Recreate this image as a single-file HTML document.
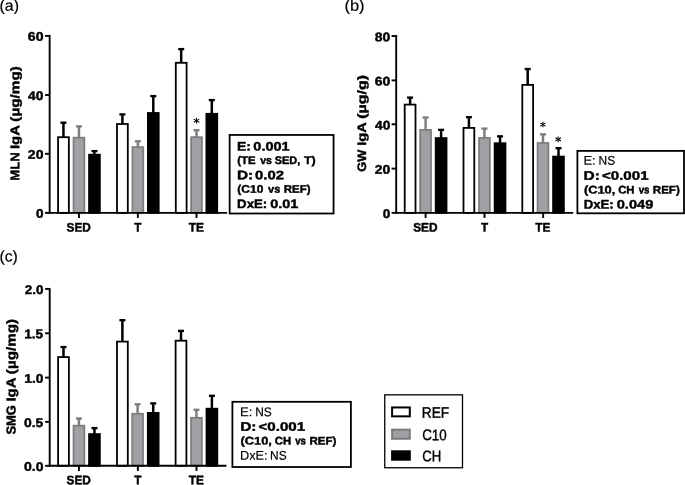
<!DOCTYPE html>
<html><head><meta charset="utf-8"><title>Figure</title>
<style>html,body{margin:0;padding:0;background:#fff;}svg{display:block;will-change:transform}text{font-family:"Liberation Sans",sans-serif;}</style>
</head><body>
<svg width="685" height="485" viewBox="0 0 685 485">
<rect width="685" height="485" fill="#fff"/>
<line x1="63.45" y1="122.70" x2="63.45" y2="137.30" stroke="#000" stroke-width="2.5" stroke-linecap="butt"/>
<line x1="60.45" y1="122.70" x2="66.45" y2="122.70" stroke="#000" stroke-width="2.35" stroke-linecap="butt"/>
<rect x="58.05" y="137.20" width="10.80" height="75.65" fill="#fff" stroke="#000" stroke-width="1.8"/>
<line x1="78.95" y1="126.40" x2="78.95" y2="137.80" stroke="#7e7e7e" stroke-width="2.5" stroke-linecap="butt"/>
<line x1="75.95" y1="126.40" x2="81.95" y2="126.40" stroke="#7e7e7e" stroke-width="2.35" stroke-linecap="butt"/>
<rect x="73.55" y="137.70" width="10.80" height="75.15" fill="#a0a0a4" stroke="#7e7e7e" stroke-width="1.8"/>
<line x1="94.45" y1="151.10" x2="94.45" y2="154.80" stroke="#000" stroke-width="2.5" stroke-linecap="butt"/>
<line x1="91.45" y1="151.10" x2="97.45" y2="151.10" stroke="#000" stroke-width="2.35" stroke-linecap="butt"/>
<rect x="89.05" y="154.70" width="10.80" height="58.15" fill="#000" stroke="#000" stroke-width="1.8"/>
<line x1="122.40" y1="114.40" x2="122.40" y2="124.10" stroke="#000" stroke-width="2.5" stroke-linecap="butt"/>
<line x1="119.40" y1="114.40" x2="125.40" y2="114.40" stroke="#000" stroke-width="2.35" stroke-linecap="butt"/>
<rect x="117.00" y="124.00" width="10.80" height="88.85" fill="#fff" stroke="#000" stroke-width="1.8"/>
<line x1="137.85" y1="141.30" x2="137.85" y2="147.20" stroke="#7e7e7e" stroke-width="2.5" stroke-linecap="butt"/>
<line x1="134.85" y1="141.30" x2="140.85" y2="141.30" stroke="#7e7e7e" stroke-width="2.35" stroke-linecap="butt"/>
<rect x="132.45" y="147.10" width="10.80" height="65.75" fill="#a0a0a4" stroke="#7e7e7e" stroke-width="1.8"/>
<line x1="153.30" y1="96.10" x2="153.30" y2="113.10" stroke="#000" stroke-width="2.5" stroke-linecap="butt"/>
<line x1="150.30" y1="96.10" x2="156.30" y2="96.10" stroke="#000" stroke-width="2.35" stroke-linecap="butt"/>
<rect x="147.90" y="113.00" width="10.80" height="99.85" fill="#000" stroke="#000" stroke-width="1.8"/>
<line x1="181.20" y1="49.10" x2="181.20" y2="62.90" stroke="#000" stroke-width="2.5" stroke-linecap="butt"/>
<line x1="178.20" y1="49.10" x2="184.20" y2="49.10" stroke="#000" stroke-width="2.35" stroke-linecap="butt"/>
<rect x="175.80" y="62.80" width="10.80" height="150.05" fill="#fff" stroke="#000" stroke-width="1.8"/>
<line x1="196.50" y1="130.20" x2="196.50" y2="137.30" stroke="#7e7e7e" stroke-width="2.5" stroke-linecap="butt"/>
<line x1="193.50" y1="130.20" x2="199.50" y2="130.20" stroke="#7e7e7e" stroke-width="2.35" stroke-linecap="butt"/>
<rect x="191.10" y="137.20" width="10.80" height="75.65" fill="#a0a0a4" stroke="#7e7e7e" stroke-width="1.8"/>
<line x1="211.80" y1="100.10" x2="211.80" y2="113.90" stroke="#000" stroke-width="2.5" stroke-linecap="butt"/>
<line x1="208.80" y1="100.10" x2="214.80" y2="100.10" stroke="#000" stroke-width="2.35" stroke-linecap="butt"/>
<rect x="206.40" y="113.80" width="10.80" height="99.05" fill="#000" stroke="#000" stroke-width="1.8"/>
<line x1="49.65" y1="34.95" x2="49.65" y2="213.80" stroke="#000" stroke-width="1.9" stroke-linecap="butt"/>
<line x1="48.70" y1="212.85" x2="227.00" y2="212.85" stroke="#000" stroke-width="1.9" stroke-linecap="butt"/>
<line x1="45.05" y1="35.90" x2="49.65" y2="35.90" stroke="#000" stroke-width="1.9" stroke-linecap="butt"/>
<line x1="45.05" y1="95.00" x2="49.65" y2="95.00" stroke="#000" stroke-width="1.9" stroke-linecap="butt"/>
<line x1="45.05" y1="153.80" x2="49.65" y2="153.80" stroke="#000" stroke-width="1.9" stroke-linecap="butt"/>
<line x1="45.05" y1="212.85" x2="49.65" y2="212.85" stroke="#000" stroke-width="1.9" stroke-linecap="butt"/>
<line x1="78.95" y1="212.85" x2="78.95" y2="217.95" stroke="#000" stroke-width="1.9" stroke-linecap="butt"/>
<line x1="137.85" y1="212.85" x2="137.85" y2="217.95" stroke="#000" stroke-width="1.9" stroke-linecap="butt"/>
<line x1="196.50" y1="212.85" x2="196.50" y2="217.95" stroke="#000" stroke-width="1.9" stroke-linecap="butt"/>
<line x1="410.10" y1="97.60" x2="410.10" y2="104.70" stroke="#000" stroke-width="2.5" stroke-linecap="butt"/>
<line x1="407.10" y1="97.60" x2="413.10" y2="97.60" stroke="#000" stroke-width="2.35" stroke-linecap="butt"/>
<rect x="404.70" y="104.60" width="10.80" height="108.25" fill="#fff" stroke="#000" stroke-width="1.8"/>
<line x1="425.60" y1="117.50" x2="425.60" y2="130.00" stroke="#7e7e7e" stroke-width="2.5" stroke-linecap="butt"/>
<line x1="422.60" y1="117.50" x2="428.60" y2="117.50" stroke="#7e7e7e" stroke-width="2.35" stroke-linecap="butt"/>
<rect x="420.20" y="129.90" width="10.80" height="82.95" fill="#a0a0a4" stroke="#7e7e7e" stroke-width="1.8"/>
<line x1="441.10" y1="129.85" x2="441.10" y2="138.20" stroke="#000" stroke-width="2.5" stroke-linecap="butt"/>
<line x1="438.10" y1="129.85" x2="444.10" y2="129.85" stroke="#000" stroke-width="2.35" stroke-linecap="butt"/>
<rect x="435.70" y="138.10" width="10.80" height="74.75" fill="#000" stroke="#000" stroke-width="1.8"/>
<line x1="468.90" y1="117.20" x2="468.90" y2="128.00" stroke="#000" stroke-width="2.5" stroke-linecap="butt"/>
<line x1="465.90" y1="117.20" x2="471.90" y2="117.20" stroke="#000" stroke-width="2.35" stroke-linecap="butt"/>
<rect x="463.50" y="127.90" width="10.80" height="84.95" fill="#fff" stroke="#000" stroke-width="1.8"/>
<line x1="484.45" y1="128.60" x2="484.45" y2="138.00" stroke="#7e7e7e" stroke-width="2.5" stroke-linecap="butt"/>
<line x1="481.45" y1="128.60" x2="487.45" y2="128.60" stroke="#7e7e7e" stroke-width="2.35" stroke-linecap="butt"/>
<rect x="479.05" y="137.90" width="10.80" height="74.95" fill="#a0a0a4" stroke="#7e7e7e" stroke-width="1.8"/>
<line x1="500.05" y1="136.35" x2="500.05" y2="143.30" stroke="#000" stroke-width="2.5" stroke-linecap="butt"/>
<line x1="497.05" y1="136.35" x2="503.05" y2="136.35" stroke="#000" stroke-width="2.35" stroke-linecap="butt"/>
<rect x="494.65" y="143.20" width="10.80" height="69.65" fill="#000" stroke="#000" stroke-width="1.8"/>
<line x1="527.70" y1="69.05" x2="527.70" y2="85.00" stroke="#000" stroke-width="2.5" stroke-linecap="butt"/>
<line x1="524.70" y1="69.05" x2="530.70" y2="69.05" stroke="#000" stroke-width="2.35" stroke-linecap="butt"/>
<rect x="522.30" y="84.90" width="10.80" height="127.95" fill="#fff" stroke="#000" stroke-width="1.8"/>
<line x1="543.00" y1="134.35" x2="543.00" y2="143.10" stroke="#7e7e7e" stroke-width="2.5" stroke-linecap="butt"/>
<line x1="540.00" y1="134.35" x2="546.00" y2="134.35" stroke="#7e7e7e" stroke-width="2.35" stroke-linecap="butt"/>
<rect x="537.60" y="143.00" width="10.80" height="69.85" fill="#a0a0a4" stroke="#7e7e7e" stroke-width="1.8"/>
<line x1="558.50" y1="148.20" x2="558.50" y2="156.70" stroke="#000" stroke-width="2.5" stroke-linecap="butt"/>
<line x1="555.50" y1="148.20" x2="561.50" y2="148.20" stroke="#000" stroke-width="2.35" stroke-linecap="butt"/>
<rect x="553.10" y="156.60" width="10.80" height="56.25" fill="#000" stroke="#000" stroke-width="1.8"/>
<line x1="396.20" y1="35.10" x2="396.20" y2="213.80" stroke="#000" stroke-width="1.9" stroke-linecap="butt"/>
<line x1="395.25" y1="212.85" x2="573.20" y2="212.85" stroke="#000" stroke-width="1.9" stroke-linecap="butt"/>
<line x1="391.60" y1="36.05" x2="396.20" y2="36.05" stroke="#000" stroke-width="1.9" stroke-linecap="butt"/>
<line x1="391.60" y1="80.40" x2="396.20" y2="80.40" stroke="#000" stroke-width="1.9" stroke-linecap="butt"/>
<line x1="391.60" y1="124.30" x2="396.20" y2="124.30" stroke="#000" stroke-width="1.9" stroke-linecap="butt"/>
<line x1="391.60" y1="168.60" x2="396.20" y2="168.60" stroke="#000" stroke-width="1.9" stroke-linecap="butt"/>
<line x1="391.60" y1="212.85" x2="396.20" y2="212.85" stroke="#000" stroke-width="1.9" stroke-linecap="butt"/>
<line x1="425.60" y1="212.85" x2="425.60" y2="217.95" stroke="#000" stroke-width="1.9" stroke-linecap="butt"/>
<line x1="484.50" y1="212.85" x2="484.50" y2="217.95" stroke="#000" stroke-width="1.9" stroke-linecap="butt"/>
<line x1="543.15" y1="212.85" x2="543.15" y2="217.95" stroke="#000" stroke-width="1.9" stroke-linecap="butt"/>
<line x1="63.50" y1="347.05" x2="63.50" y2="357.20" stroke="#000" stroke-width="2.5" stroke-linecap="butt"/>
<line x1="60.50" y1="347.05" x2="66.50" y2="347.05" stroke="#000" stroke-width="2.35" stroke-linecap="butt"/>
<rect x="58.10" y="357.10" width="10.80" height="108.70" fill="#fff" stroke="#000" stroke-width="1.8"/>
<line x1="78.95" y1="418.50" x2="78.95" y2="425.80" stroke="#7e7e7e" stroke-width="2.5" stroke-linecap="butt"/>
<line x1="75.95" y1="418.50" x2="81.95" y2="418.50" stroke="#7e7e7e" stroke-width="2.35" stroke-linecap="butt"/>
<rect x="73.55" y="425.70" width="10.80" height="40.10" fill="#a0a0a4" stroke="#7e7e7e" stroke-width="1.8"/>
<line x1="94.45" y1="428.10" x2="94.45" y2="434.20" stroke="#000" stroke-width="2.5" stroke-linecap="butt"/>
<line x1="91.45" y1="428.10" x2="97.45" y2="428.10" stroke="#000" stroke-width="2.35" stroke-linecap="butt"/>
<rect x="89.05" y="434.10" width="10.80" height="31.70" fill="#000" stroke="#000" stroke-width="1.8"/>
<line x1="122.40" y1="320.20" x2="122.40" y2="341.70" stroke="#000" stroke-width="2.5" stroke-linecap="butt"/>
<line x1="119.40" y1="320.20" x2="125.40" y2="320.20" stroke="#000" stroke-width="2.35" stroke-linecap="butt"/>
<rect x="117.00" y="341.60" width="10.80" height="124.20" fill="#fff" stroke="#000" stroke-width="1.8"/>
<line x1="137.60" y1="404.30" x2="137.60" y2="413.90" stroke="#7e7e7e" stroke-width="2.5" stroke-linecap="butt"/>
<line x1="134.60" y1="404.30" x2="140.60" y2="404.30" stroke="#7e7e7e" stroke-width="2.35" stroke-linecap="butt"/>
<rect x="132.20" y="413.80" width="10.80" height="52.00" fill="#a0a0a4" stroke="#7e7e7e" stroke-width="1.8"/>
<line x1="153.20" y1="403.40" x2="153.20" y2="413.00" stroke="#000" stroke-width="2.5" stroke-linecap="butt"/>
<line x1="150.20" y1="403.40" x2="156.20" y2="403.40" stroke="#000" stroke-width="2.35" stroke-linecap="butt"/>
<rect x="147.80" y="412.90" width="10.80" height="52.90" fill="#000" stroke="#000" stroke-width="1.8"/>
<line x1="181.00" y1="330.90" x2="181.00" y2="340.80" stroke="#000" stroke-width="2.5" stroke-linecap="butt"/>
<line x1="178.00" y1="330.90" x2="184.00" y2="330.90" stroke="#000" stroke-width="2.35" stroke-linecap="butt"/>
<rect x="175.60" y="340.70" width="10.80" height="125.10" fill="#fff" stroke="#000" stroke-width="1.8"/>
<line x1="196.45" y1="409.80" x2="196.45" y2="417.90" stroke="#7e7e7e" stroke-width="2.5" stroke-linecap="butt"/>
<line x1="193.45" y1="409.80" x2="199.45" y2="409.80" stroke="#7e7e7e" stroke-width="2.35" stroke-linecap="butt"/>
<rect x="191.05" y="417.80" width="10.80" height="48.00" fill="#a0a0a4" stroke="#7e7e7e" stroke-width="1.8"/>
<line x1="211.90" y1="395.80" x2="211.90" y2="408.80" stroke="#000" stroke-width="2.5" stroke-linecap="butt"/>
<line x1="208.90" y1="395.80" x2="214.90" y2="395.80" stroke="#000" stroke-width="2.35" stroke-linecap="butt"/>
<rect x="206.50" y="408.70" width="10.80" height="57.10" fill="#000" stroke="#000" stroke-width="1.8"/>
<line x1="49.70" y1="287.95" x2="49.70" y2="466.75" stroke="#000" stroke-width="1.9" stroke-linecap="butt"/>
<line x1="48.75" y1="465.80" x2="226.50" y2="465.80" stroke="#000" stroke-width="1.9" stroke-linecap="butt"/>
<line x1="45.10" y1="288.90" x2="49.70" y2="288.90" stroke="#000" stroke-width="1.9" stroke-linecap="butt"/>
<line x1="45.10" y1="333.30" x2="49.70" y2="333.30" stroke="#000" stroke-width="1.9" stroke-linecap="butt"/>
<line x1="45.10" y1="377.60" x2="49.70" y2="377.60" stroke="#000" stroke-width="1.9" stroke-linecap="butt"/>
<line x1="45.10" y1="421.85" x2="49.70" y2="421.85" stroke="#000" stroke-width="1.9" stroke-linecap="butt"/>
<line x1="45.10" y1="465.80" x2="49.70" y2="465.80" stroke="#000" stroke-width="1.9" stroke-linecap="butt"/>
<line x1="78.95" y1="465.80" x2="78.95" y2="470.90" stroke="#000" stroke-width="1.9" stroke-linecap="butt"/>
<line x1="137.85" y1="465.80" x2="137.85" y2="470.90" stroke="#000" stroke-width="1.9" stroke-linecap="butt"/>
<line x1="196.50" y1="465.80" x2="196.50" y2="470.90" stroke="#000" stroke-width="1.9" stroke-linecap="butt"/>
<text transform="translate(27.804,40.805) rotate(0.1) scale(0.07044,0.06240)" font-size="200" font-weight="bold" fill="#000" stroke="#000" stroke-width="6.62" stroke-linejoin="round">60</text>
<text transform="translate(28.111,99.906) rotate(0.1) scale(0.06901,0.06240)" font-size="200" font-weight="bold" fill="#000" stroke="#000" stroke-width="6.70" stroke-linejoin="round">40</text>
<text transform="translate(27.832,158.706) rotate(0.1) scale(0.07031,0.06240)" font-size="200" font-weight="bold" fill="#000" stroke="#000" stroke-width="6.63" stroke-linejoin="round">20</text>
<text transform="translate(35.983,217.756) rotate(0.1) scale(0.06792,0.06240)" font-size="200" font-weight="bold" fill="#000" stroke="#000" stroke-width="6.75" stroke-linejoin="round">0</text>
<text transform="translate(374.778,41.206) rotate(0.1) scale(0.06963,0.06240)" font-size="200" font-weight="bold" fill="#000" stroke="#000" stroke-width="6.67" stroke-linejoin="round">80</text>
<text transform="translate(374.707,85.555) rotate(0.1) scale(0.06996,0.06240)" font-size="200" font-weight="bold" fill="#000" stroke="#000" stroke-width="6.65" stroke-linejoin="round">60</text>
<text transform="translate(375.013,129.456) rotate(0.1) scale(0.06853,0.06240)" font-size="200" font-weight="bold" fill="#000" stroke="#000" stroke-width="6.72" stroke-linejoin="round">40</text>
<text transform="translate(374.736,173.756) rotate(0.1) scale(0.06983,0.06240)" font-size="200" font-weight="bold" fill="#000" stroke="#000" stroke-width="6.66" stroke-linejoin="round">20</text>
<text transform="translate(382.683,218.006) rotate(0.1) scale(0.06792,0.06240)" font-size="200" font-weight="bold" fill="#000" stroke="#000" stroke-width="6.75" stroke-linejoin="round">0</text>
<text transform="translate(24.754,293.956) rotate(0.1) scale(0.06713,0.06240)" font-size="200" font-weight="bold" fill="#000" stroke="#000" stroke-width="6.79" stroke-linejoin="round">2.0</text>
<text transform="translate(24.208,338.354) rotate(0.1) scale(0.06848,0.06329)" font-size="200" font-weight="bold" fill="#000" stroke="#000" stroke-width="6.68" stroke-linejoin="round">1.5</text>
<text transform="translate(24.199,382.656) rotate(0.1) scale(0.06918,0.06240)" font-size="200" font-weight="bold" fill="#000" stroke="#000" stroke-width="6.69" stroke-linejoin="round">1.0</text>
<text transform="translate(23.971,426.906) rotate(0.1) scale(0.06935,0.06240)" font-size="200" font-weight="bold" fill="#000" stroke="#000" stroke-width="6.68" stroke-linejoin="round">0.5</text>
<text transform="translate(23.966,470.856) rotate(0.1) scale(0.07005,0.06240)" font-size="200" font-weight="bold" fill="#000" stroke="#000" stroke-width="6.64" stroke-linejoin="round">0.0</text>
<text transform="translate(66.570,231.380) rotate(0.1) scale(0.05908,0.06167)" font-size="200" font-weight="bold" fill="#000" stroke="#000" stroke-width="7.29" stroke-linejoin="round">SED</text>
<text transform="translate(134.289,231.380) rotate(0.1) scale(0.05826,0.06167)" font-size="200" font-weight="bold" fill="#000" stroke="#000" stroke-width="7.34" stroke-linejoin="round">T</text>
<text transform="translate(188.687,231.380) rotate(0.1) scale(0.05934,0.06167)" font-size="200" font-weight="bold" fill="#000" stroke="#000" stroke-width="7.27" stroke-linejoin="round">TE</text>
<text transform="translate(413.220,231.380) rotate(0.1) scale(0.05908,0.06167)" font-size="200" font-weight="bold" fill="#000" stroke="#000" stroke-width="7.29" stroke-linejoin="round">SED</text>
<text transform="translate(480.939,231.380) rotate(0.1) scale(0.05826,0.06167)" font-size="200" font-weight="bold" fill="#000" stroke="#000" stroke-width="7.34" stroke-linejoin="round">T</text>
<text transform="translate(535.337,231.380) rotate(0.1) scale(0.05934,0.06167)" font-size="200" font-weight="bold" fill="#000" stroke="#000" stroke-width="7.27" stroke-linejoin="round">TE</text>
<text transform="translate(66.570,484.330) rotate(0.1) scale(0.05908,0.06167)" font-size="200" font-weight="bold" fill="#000" stroke="#000" stroke-width="7.29" stroke-linejoin="round">SED</text>
<text transform="translate(134.289,484.330) rotate(0.1) scale(0.05826,0.06167)" font-size="200" font-weight="bold" fill="#000" stroke="#000" stroke-width="7.34" stroke-linejoin="round">T</text>
<text transform="translate(188.687,484.330) rotate(0.1) scale(0.05934,0.06167)" font-size="200" font-weight="bold" fill="#000" stroke="#000" stroke-width="7.27" stroke-linejoin="round">TE</text>
<text transform="translate(19.230,180.655) rotate(-89.9) scale(0.06545,0.06275)" font-size="200" font-weight="bold" fill="#000" stroke="#000" stroke-width="6.86" stroke-linejoin="round">MLN</text>
<text transform="translate(19.230,149.023) rotate(-89.9) scale(0.07429,0.06275)" font-size="200" font-weight="bold" fill="#000" stroke="#000" stroke-width="6.42" stroke-linejoin="round">IgA</text>
<text transform="translate(19.230,121.693) rotate(-89.9) scale(0.07650,0.06275)" font-size="200" font-weight="bold" fill="#000" stroke="#000" stroke-width="6.32" stroke-linejoin="round">(µg/mg)</text>
<text transform="translate(366.030,171.756) rotate(-89.9) scale(0.06412,0.06130)" font-size="200" font-weight="bold" fill="#000" stroke="#000" stroke-width="7.02" stroke-linejoin="round">GW</text>
<text transform="translate(366.030,145.706) rotate(-89.9) scale(0.07298,0.06130)" font-size="200" font-weight="bold" fill="#000" stroke="#000" stroke-width="6.55" stroke-linejoin="round">IgA</text>
<text transform="translate(366.030,118.827) rotate(-89.9) scale(0.07994,0.06130)" font-size="200" font-weight="bold" fill="#000" stroke="#000" stroke-width="6.23" stroke-linejoin="round">(µg/g)</text>
<text transform="translate(15.530,434.614) rotate(-89.9) scale(0.06486,0.06457)" font-size="200" font-weight="bold" fill="#000" stroke="#000" stroke-width="6.80" stroke-linejoin="round">SMG</text>
<text transform="translate(15.530,401.528) rotate(-89.9) scale(0.07462,0.06457)" font-size="200" font-weight="bold" fill="#000" stroke="#000" stroke-width="6.32" stroke-linejoin="round">IgA</text>
<text transform="translate(15.530,374.191) rotate(-89.9) scale(0.07629,0.06457)" font-size="200" font-weight="bold" fill="#000" stroke="#000" stroke-width="6.25" stroke-linejoin="round">(µg/mg)</text>
<text transform="translate(-0.488,10.643) rotate(0.1) scale(0.07962,0.07754)" font-size="200" font-weight="normal" fill="#000" stroke="#000" stroke-width="2.55" stroke-linejoin="round">(a)</text>
<text transform="translate(344.478,10.643) rotate(0.1) scale(0.08235,0.07754)" font-size="200" font-weight="normal" fill="#000" stroke="#000" stroke-width="2.50" stroke-linejoin="round">(b)</text>
<text transform="translate(-0.581,261.593) rotate(0.1) scale(0.07903,0.07754)" font-size="200" font-weight="normal" fill="#000" stroke="#000" stroke-width="2.55" stroke-linejoin="round">(c)</text>
<rect x="229.65" y="134.95" width="103.90" height="78.55" fill="#fff" stroke="#000" stroke-width="1.8"/>
<text transform="translate(236.932,150.480) rotate(0.1) scale(0.07012,0.06167)" font-size="200" font-weight="bold" fill="#000" stroke="#000" stroke-width="6.68" stroke-linejoin="round">E:</text>
<text transform="translate(253.346,150.480) rotate(0.1) scale(0.07254,0.06167)" font-size="200" font-weight="bold" fill="#000" stroke="#000" stroke-width="6.56" stroke-linejoin="round">0.001</text>
<text transform="translate(237.300,163.930) rotate(0.1) scale(0.05715,0.05514)" font-size="200" font-weight="bold" fill="#000" stroke="#000" stroke-width="7.84" stroke-linejoin="round">(TE</text>
<text transform="translate(260.171,163.930) rotate(0.1) scale(0.05285,0.05514)" font-size="200" font-weight="bold" fill="#000" stroke="#000" stroke-width="8.15" stroke-linejoin="round">vs</text>
<text transform="translate(274.796,163.930) rotate(0.1) scale(0.05469,0.05514)" font-size="200" font-weight="bold" fill="#000" stroke="#000" stroke-width="8.01" stroke-linejoin="round">SED,</text>
<text transform="translate(303.930,163.930) rotate(0.1) scale(0.06214,0.05514)" font-size="200" font-weight="bold" fill="#000" stroke="#000" stroke-width="7.50" stroke-linejoin="round">T)</text>
<text transform="translate(236.944,179.180) rotate(0.1) scale(0.07675,0.06167)" font-size="200" font-weight="bold" fill="#000" stroke="#000" stroke-width="6.36" stroke-linejoin="round">D:</text>
<text transform="translate(255.082,179.180) rotate(0.1) scale(0.07436,0.06167)" font-size="200" font-weight="bold" fill="#000" stroke="#000" stroke-width="6.47" stroke-linejoin="round">0.02</text>
<text transform="translate(237.374,192.630) rotate(0.1) scale(0.05978,0.05514)" font-size="200" font-weight="bold" fill="#000" stroke="#000" stroke-width="7.66" stroke-linejoin="round">(C10</text>
<text transform="translate(268.119,192.630) rotate(0.1) scale(0.05472,0.05514)" font-size="200" font-weight="bold" fill="#000" stroke="#000" stroke-width="8.01" stroke-linejoin="round">vs</text>
<text transform="translate(283.805,192.630) rotate(0.1) scale(0.05721,0.05514)" font-size="200" font-weight="bold" fill="#000" stroke="#000" stroke-width="7.83" stroke-linejoin="round">REF)</text>
<text transform="translate(237.083,207.880) rotate(0.1) scale(0.06634,0.06167)" font-size="200" font-weight="bold" fill="#000" stroke="#000" stroke-width="6.87" stroke-linejoin="round">DxE:</text>
<text transform="translate(270.196,207.880) rotate(0.1) scale(0.07255,0.06167)" font-size="200" font-weight="bold" fill="#000" stroke="#000" stroke-width="6.56" stroke-linejoin="round">0.01</text>
<rect x="577.40" y="150.90" width="106.60" height="62.40" fill="#fff" stroke="#000" stroke-width="1.8"/>
<text transform="translate(583.379,164.800) rotate(0.1) scale(0.06530,0.06341)" font-size="200" font-weight="normal" fill="#000" stroke="#000" stroke-width="3.11" stroke-linejoin="round">E:</text>
<text transform="translate(598.570,164.800) rotate(0.1) scale(0.05977,0.06341)" font-size="200" font-weight="normal" fill="#000" stroke="#000" stroke-width="3.25" stroke-linejoin="round">NS</text>
<text transform="translate(583.529,179.780) rotate(0.1) scale(0.07787,0.06167)" font-size="200" font-weight="bold" fill="#000" stroke="#000" stroke-width="6.31" stroke-linejoin="round">D:</text>
<text transform="translate(601.935,179.780) rotate(0.1) scale(0.07560,0.06167)" font-size="200" font-weight="bold" fill="#000" stroke="#000" stroke-width="6.41" stroke-linejoin="round">&lt;0.001</text>
<text transform="translate(583.930,193.580) rotate(0.1) scale(0.06415,0.05514)" font-size="200" font-weight="bold" fill="#000" stroke="#000" stroke-width="7.38" stroke-linejoin="round">(C10,</text>
<text transform="translate(618.155,193.580) rotate(0.1) scale(0.05664,0.05514)" font-size="200" font-weight="bold" fill="#000" stroke="#000" stroke-width="7.87" stroke-linejoin="round">CH</text>
<text transform="translate(638.625,193.580) rotate(0.1) scale(0.04839,0.05514)" font-size="200" font-weight="bold" fill="#000" stroke="#000" stroke-width="8.50" stroke-linejoin="round">vs</text>
<text transform="translate(652.849,193.580) rotate(0.1) scale(0.05766,0.05514)" font-size="200" font-weight="bold" fill="#000" stroke="#000" stroke-width="7.80" stroke-linejoin="round">REF)</text>
<text transform="translate(583.686,208.380) rotate(0.1) scale(0.06610,0.06167)" font-size="200" font-weight="bold" fill="#000" stroke="#000" stroke-width="6.89" stroke-linejoin="round">DxE:</text>
<text transform="translate(616.692,208.380) rotate(0.1) scale(0.07313,0.06167)" font-size="200" font-weight="bold" fill="#000" stroke="#000" stroke-width="6.53" stroke-linejoin="round">0.049</text>
<rect x="232.40" y="401.80" width="118.50" height="65.20" fill="#fff" stroke="#000" stroke-width="1.8"/>
<text transform="translate(239.979,416.200) rotate(0.1) scale(0.06530,0.06341)" font-size="200" font-weight="normal" fill="#000" stroke="#000" stroke-width="3.11" stroke-linejoin="round">E:</text>
<text transform="translate(255.170,416.200) rotate(0.1) scale(0.05977,0.06341)" font-size="200" font-weight="normal" fill="#000" stroke="#000" stroke-width="3.25" stroke-linejoin="round">NS</text>
<text transform="translate(240.129,430.680) rotate(0.1) scale(0.07787,0.06167)" font-size="200" font-weight="bold" fill="#000" stroke="#000" stroke-width="6.31" stroke-linejoin="round">D:</text>
<text transform="translate(258.535,430.680) rotate(0.1) scale(0.07560,0.06167)" font-size="200" font-weight="bold" fill="#000" stroke="#000" stroke-width="6.41" stroke-linejoin="round">&lt;0.001</text>
<text transform="translate(240.530,444.380) rotate(0.1) scale(0.06415,0.05514)" font-size="200" font-weight="bold" fill="#000" stroke="#000" stroke-width="7.38" stroke-linejoin="round">(C10,</text>
<text transform="translate(274.755,444.380) rotate(0.1) scale(0.05664,0.05514)" font-size="200" font-weight="bold" fill="#000" stroke="#000" stroke-width="7.87" stroke-linejoin="round">CH</text>
<text transform="translate(295.225,444.380) rotate(0.1) scale(0.04839,0.05514)" font-size="200" font-weight="bold" fill="#000" stroke="#000" stroke-width="8.50" stroke-linejoin="round">vs</text>
<text transform="translate(309.449,444.380) rotate(0.1) scale(0.05766,0.05514)" font-size="200" font-weight="bold" fill="#000" stroke="#000" stroke-width="7.80" stroke-linejoin="round">REF)</text>
<text transform="translate(240.010,459.800) rotate(0.1) scale(0.06342,0.06341)" font-size="200" font-weight="normal" fill="#000" stroke="#000" stroke-width="3.15" stroke-linejoin="round">DxE:</text>
<text transform="translate(270.123,459.800) rotate(0.1) scale(0.05957,0.06341)" font-size="200" font-weight="normal" fill="#000" stroke="#000" stroke-width="3.25" stroke-linejoin="round">NS</text>
<rect x="384.75" y="394.85" width="77.75" height="72.90" fill="#fff" stroke="#000" stroke-width="1.3"/>
<rect x="392.10" y="407.45" width="17.70" height="8.90" fill="#fff" stroke="#000" stroke-width="2.0"/>
<rect x="392.10" y="429.65" width="17.70" height="9.10" fill="#a0a0a4" stroke="#7a7a7a" stroke-width="2.0"/>
<rect x="391.10" y="450.30" width="19.70" height="10.40" fill="#000" stroke="none" stroke-width="0"/>
<text transform="translate(421.756,417.820) rotate(0.1) scale(0.06850,0.07638)" font-size="200" font-weight="normal" fill="#000" stroke="#000" stroke-width="4.97" stroke-linejoin="round">REF</text>
<text transform="translate(422.201,440.120) rotate(0.1) scale(0.06683,0.07638)" font-size="200" font-weight="normal" fill="#000" stroke="#000" stroke-width="5.03" stroke-linejoin="round">C10</text>
<text transform="translate(422.211,461.220) rotate(0.1) scale(0.06581,0.07638)" font-size="200" font-weight="normal" fill="#000" stroke="#000" stroke-width="5.06" stroke-linejoin="round">CH</text>
<line x1="196.50" y1="117.85" x2="196.50" y2="123.55" stroke="#000" stroke-width="1.05" stroke-linecap="butt"/>
<line x1="193.77" y1="119.12" x2="199.23" y2="122.28" stroke="#000" stroke-width="1.05" stroke-linecap="butt"/>
<line x1="193.77" y1="122.28" x2="199.23" y2="119.12" stroke="#000" stroke-width="1.05" stroke-linecap="butt"/>
<line x1="542.90" y1="121.65" x2="542.90" y2="127.35" stroke="#000" stroke-width="1.05" stroke-linecap="butt"/>
<line x1="540.17" y1="122.92" x2="545.63" y2="126.08" stroke="#000" stroke-width="1.05" stroke-linecap="butt"/>
<line x1="540.17" y1="126.08" x2="545.63" y2="122.92" stroke="#000" stroke-width="1.05" stroke-linecap="butt"/>
<line x1="558.20" y1="136.55" x2="558.20" y2="142.25" stroke="#000" stroke-width="1.05" stroke-linecap="butt"/>
<line x1="555.47" y1="137.83" x2="560.93" y2="140.97" stroke="#000" stroke-width="1.05" stroke-linecap="butt"/>
<line x1="555.47" y1="140.97" x2="560.93" y2="137.83" stroke="#000" stroke-width="1.05" stroke-linecap="butt"/>
</svg>
</body></html>
